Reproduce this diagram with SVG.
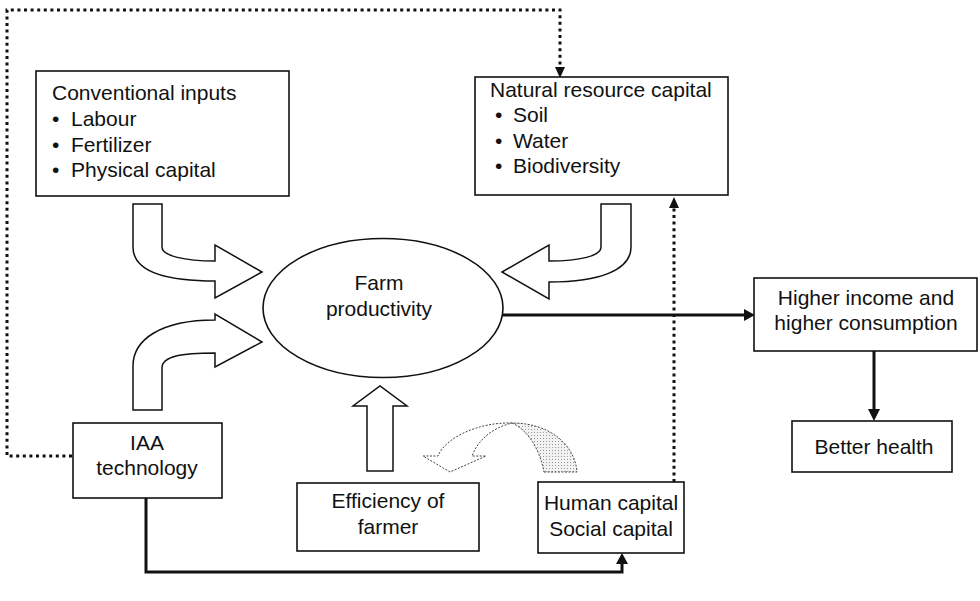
<svg xmlns="http://www.w3.org/2000/svg" width="980" height="601" viewBox="0 0 980 601">
<style>
  .box{fill:#fff;stroke:#111;stroke-width:1.6}
  .t{font-family:"Liberation Sans",Arial,sans-serif;font-size:21px;fill:#111}
  .c{text-anchor:middle}
  .blk{fill:#fff;stroke:#111;stroke-width:1.5;stroke-linejoin:miter}
  .dot{fill:none;stroke:#111;stroke-width:3;stroke-dasharray:3 3.6}
  .solid{fill:none;stroke:#111;stroke-width:3}
  .dash{fill:#fff;stroke:#444;stroke-width:1;stroke-dasharray:2 1.5}
</style>
<defs>
  <pattern id="stip" width="3" height="3" patternUnits="userSpaceOnUse">
    <rect width="3" height="3" fill="#f2f2f2"/>
    <rect width="1" height="1" fill="#9a9a9a"/>
  </pattern>
</defs>
<rect width="980" height="601" fill="#fff"/>

<g id="connectors">
  <path class="dot" d="M72,456 H7 V10 H560 V68"/>
  <path d="M555,67 L565,67 L560,78 Z" fill="#111"/>
  <path class="dot" d="M674,482 V207"/>
  <path d="M669,208 L679,208 L674,197 Z" fill="#111"/>
  <path class="solid" d="M503,315 H745"/>
  <path d="M744,309 L755,315 L744,321 Z" fill="#111"/>
  <path class="solid" d="M874,351 V411"/>
  <path d="M868,409 L880,409 L874,421 Z" fill="#111"/>
  <path class="solid" d="M146,498 V572 H622 V562"/>
  <path d="M616,564 L628,564 L622,553 Z" fill="#111"/>
  <!-- block arrows -->
  <path class="blk" d="M133,204 H162 V247 C162,256 185,261 215,261 V245 L262,272 L215,298 V281 C160,281 133,270 133,247 Z"/>
  <path class="blk" d="M133,410 V366 C133,340 160,320 215,320 V314 L262,342 L215,367 V353 C182,353 162,356 162,368 V410 Z"/>
  <path class="blk" d="M601,204 H631 V247 C631,270 600,282 549,282 V299 L502,272 L549,245 V261 C580,261 601,256 601,247 Z"/>
  <path class="blk" d="M367,471 V406 H353 L380,386 L407,406 H393 V471 Z"/>
  <path d="M544,472 L577,472 C575,445 550,423 512,423 C528,430 540,450 544,472 Z" fill="url(#stip)" stroke="#444" stroke-width="1" stroke-dasharray="2 1.5"/>
  <path class="dash" d="M512,423 C478,422 445,438 438,456 L423,456 L450,472 L486,456 L472,456 C478,440 492,428 512,423 Z"/>
</g>

<g id="conventional">
  <rect class="box" x="36" y="71" width="253" height="125"/>
  <text class="t" x="52" y="100">Conventional inputs</text>
  <text class="t" x="52" y="126">•</text><text class="t" x="71" y="126">Labour</text>
  <text class="t" x="52" y="152">•</text><text class="t" x="71" y="152">Fertilizer</text>
  <text class="t" x="52" y="177">•</text><text class="t" x="71" y="177">Physical capital</text>
</g>

<g id="natural">
  <rect class="box" x="475" y="77" width="253" height="118"/>
  <text class="t" x="490" y="97">Natural resource capital</text>
  <text class="t" x="495" y="122">•</text><text class="t" x="513" y="122">Soil</text>
  <text class="t" x="495" y="148">•</text><text class="t" x="513" y="148">Water</text>
  <text class="t" x="495" y="173">•</text><text class="t" x="513" y="173">Biodiversity</text>
</g>

<g id="farm">
  <ellipse cx="383" cy="308" rx="120" ry="69.5" fill="#fff" stroke="#111" stroke-width="1.6"/>
  <text class="t c" x="379" y="290">Farm</text>
  <text class="t c" x="379" y="316">productivity</text>
</g>

<g id="income">
  <rect class="box" x="754" y="278" width="223" height="73"/>
  <text class="t c" x="866" y="305">Higher income and</text>
  <text class="t c" x="866" y="330">higher consumption</text>
</g>

<g id="health">
  <rect class="box" x="792" y="421" width="160" height="51"/>
  <text class="t c" x="874" y="454">Better health</text>
</g>

<g id="iaa">
  <rect class="box" x="73" y="423" width="149" height="75"/>
  <text class="t c" x="147" y="450">IAA</text>
  <text class="t c" x="147" y="475">technology</text>
</g>

<g id="efficiency">
  <rect class="box" x="297" y="483" width="182" height="68"/>
  <text class="t c" x="388" y="508">Efficiency of</text>
  <text class="t c" x="388" y="534">farmer</text>
</g>

<g id="human">
  <rect class="box" x="538" y="482" width="146" height="71"/>
  <text class="t c" x="611" y="510">Human capital</text>
  <text class="t c" x="611" y="536">Social capital</text>
</g>
</svg>
